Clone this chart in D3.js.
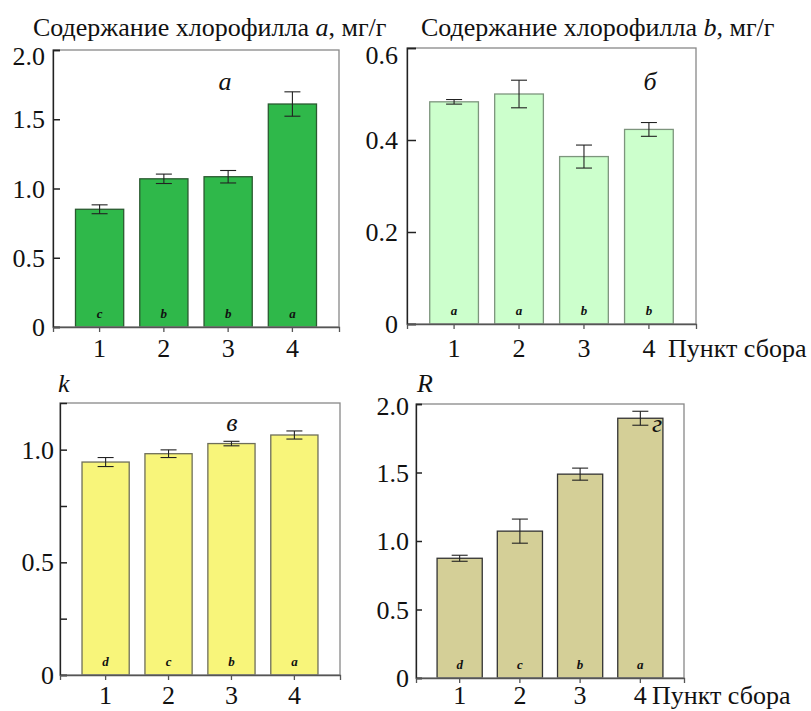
<!DOCTYPE html>
<html>
<head>
<meta charset="utf-8">
<script src="https://cdn.jsdelivr.net/npm/d3@7"></script>
</head>
<body style="margin:0">
<script>
// sampling sites
var sites = ["1", "2", "3", "4"];

// a: chlorophyll a, mg/g
var chlA = [0.85, 1.07, 1.085, 1.61];
var chlAErr = [0.032, 0.034, 0.045, 0.088];
var chlALetters = ["c", "b", "b", "a"];
var chlATicks = [0, 0.5, 1.0, 1.5, 2.0];

// б: chlorophyll b, mg/g
var chlB = [0.483, 0.50, 0.364, 0.423];
var chlBErr = [0.005, 0.03, 0.025, 0.015];
var chlBLetters = ["a", "a", "b", "b"];
var chlBTicks = [0, 0.2, 0.4, 0.6];

// в: k
var kVals = [0.945, 0.982, 1.027, 1.065];
var kErr = [0.02, 0.017, 0.01, 0.018];
var kLetters = ["d", "c", "b", "a"];
var kTicks = [0, 0.25, 0.5, 0.75, 1.0];
var kLabeled = [0, 0.5, 1.0];

// г: R
var rVals = [0.874, 1.072, 1.488, 1.896];
var rErr = [0.022, 0.088, 0.044, 0.051];
var rLetters = ["d", "c", "b", "a"];
var rTicks = [0, 0.5, 1.0, 1.5, 2.0];

var svg = d3.select("body").append("svg")
  .attr("width", 811)
  .attr("height", 711)
  .attr("font-family", "Liberation Serif")
  .attr("font-size", 26);

function fmt(v) {
  return v == 0 ? "0" : d3.format(".1f")(v);
}

// all texts go straight into the svg root
function txt(size) {
  return svg.append("text")
    .attr("font-family", "Liberation Serif")
    .attr("font-size", size)
    .attr("fill", "#111");
}

function drawPanel(p) {
  var x = d3.scaleBand()
    .domain(sites)
    .range([p.left, p.right])
    .paddingInner(0.25)
    .paddingOuter(0.35);

  var y = d3.scaleLinear()
    .domain([0, p.ymax])
    .range([p.bottom, p.top]);

  var g = svg.append("g");

  // bars
  g.selectAll(".bar")
    .data(p.values).enter()
    .append("rect")
    .attr("x", (d, i) => x(sites[i]))
    .attr("y", d => y(d))
    .attr("width", x.bandwidth())
    .attr("height", d => y(0) - y(d))
    .attr("fill", p.fill)
    .attr("stroke", p.barStroke)
    .attr("stroke-width", 1.3);

  // error bars
  p.values.forEach(function(v, i) {
    var cx = x(sites[i]) + x.bandwidth() / 2;
    var e = g.append("g").attr("stroke", "#222").attr("stroke-width", 1.1);
    e.append("line").attr("x1", cx).attr("x2", cx)
      .attr("y1", y(v - p.err[i])).attr("y2", y(v + p.err[i]));
    [-1, 1].forEach(function(s) {
      e.append("line").attr("x1", cx - 8).attr("x2", cx + 8)
        .attr("y1", y(v + s * p.err[i])).attr("y2", y(v + s * p.err[i]));
    });
  });

  // frame
  g.append("rect")
    .attr("x", p.left)
    .attr("y", p.top)
    .attr("width", p.right - p.left)
    .attr("height", p.bottom - p.top)
    .attr("fill", "none")
    .attr("stroke", "#888")
    .attr("stroke-width", 1.3);

  // left axis, ticks pointing inwards
  var ya = g.append("g")
    .attr("transform", `translate(${p.left}, 0)`)
    .call(d3.axisRight(y).tickValues(p.ticks).tickSize(p.tickLen).tickFormat(""));
  ya.select(".domain").attr("stroke", "#222").attr("stroke-width", 1.3);
  ya.selectAll(".tick line").attr("stroke", "#222").attr("stroke-width", 1.5);

  // bottom axis, ticks outwards
  var xa = g.append("g")
    .attr("transform", `translate(0, ${p.bottom})`)
    .call(d3.axisBottom(x).tickSize(5).tickFormat(""));
  xa.select(".domain").attr("stroke", "#555").attr("stroke-width", 1.3);
  xa.selectAll(".tick line").attr("stroke", "#555").attr("stroke-width", 1.3);

  // significance letters
  p.letters.forEach(function(l, i) {
    txt(13)
      .attr("x", x(sites[i]) + x.bandwidth() / 2)
      .attr("y", p.bottom - 9)
      .attr("text-anchor", "middle")
      .attr("font-style", "italic")
      .attr("font-weight", "bold")
      .text(l);
  });

  (p.labeled || p.ticks).forEach(function(d) {
    txt(26)
      .attr("x", p.left - p.labGap)
      .attr("y", y(d) + (d == p.ymax ? p.topShift : 0))
      .attr("dy", "0.35em")
      .attr("text-anchor", "end")
      .text(fmt(d));
  });

  sites.forEach(function(d) {
    txt(26)
      .attr("x", x(d) + x.bandwidth() / 2)
      .attr("y", p.xLabY)
      .attr("text-anchor", "middle")
      .text(d);
  });

  if (p.xTitle) {
    txt(26).attr("x", p.xTitleX).attr("y", p.xLabY).text(p.xTitle);
  }

  // panel letter
  txt(26)
    .attr("x", p.tagX)
    .attr("y", p.tagY)
    .attr("text-anchor", "middle")
    .attr("font-style", "italic")
    .text(p.tag);

  // y title
  var t = txt(26).attr("x", p.titleX).attr("y", p.titleY);
  p.title.forEach(function(part) {
    t.append("tspan")
      .attr("font-style", part.it ? "italic" : "normal")
      .text(part.s);
  });
}

drawPanel({
  left: 53, right: 339, top: 50, bottom: 327, ymax: 2.0, topShift: 6,
  values: chlA, err: chlAErr, letters: chlALetters, ticks: chlATicks,
  fill: "#2fb84a", barStroke: "#2a5a30", tickLen: 7, labGap: 8,
  tag: "а", tagX: 225, tagY: 90, xLabY: 357,
  title: [{s: "Содержание хлорофилла "}, {s: "a", it: true}, {s: ", мг/г"}],
  titleX: 33, titleY: 36
});

drawPanel({
  left: 407, right: 696, top: 48, bottom: 324, ymax: 0.6, topShift: 7,
  values: chlB, err: chlBErr, letters: chlBLetters, ticks: chlBTicks,
  fill: "#ccffcc", barStroke: "#7d957d", tickLen: 9, labGap: 9,
  tag: "б", tagX: 650, tagY: 90, xLabY: 357,
  title: [{s: "Содержание хлорофилла "}, {s: "b", it: true}, {s: ", мг/г"}],
  titleX: 421, titleY: 36,
  xTitle: "Пункт сбора", xTitleX: 668
});

drawPanel({
  left: 60, right: 340, top: 403, bottom: 675, ymax: 1.207, topShift: 0,
  values: kVals, err: kErr, letters: kLetters, ticks: kTicks, labeled: kLabeled,
  fill: "#f8f57a", barStroke: "#6e6e5a", tickLen: 7, labGap: 6,
  tag: "в", tagX: 232, tagY: 431, xLabY: 704,
  title: [{s: "k", it: true}],
  titleX: 58, titleY: 392
});

drawPanel({
  left: 416, right: 684, top: 404, bottom: 678, ymax: 2.0, topShift: 2,
  values: rVals, err: rErr, letters: rLetters, ticks: rTicks,
  fill: "#d4cf97", barStroke: "#333", tickLen: 6, labGap: 7,
  tag: "г", tagX: 657, tagY: 432, xLabY: 704,
  title: [{s: "R", it: true}],
  titleX: 417, titleY: 392,
  xTitle: "Пункт сбора", xTitleX: 652
});
</script>
</body>
</html>
